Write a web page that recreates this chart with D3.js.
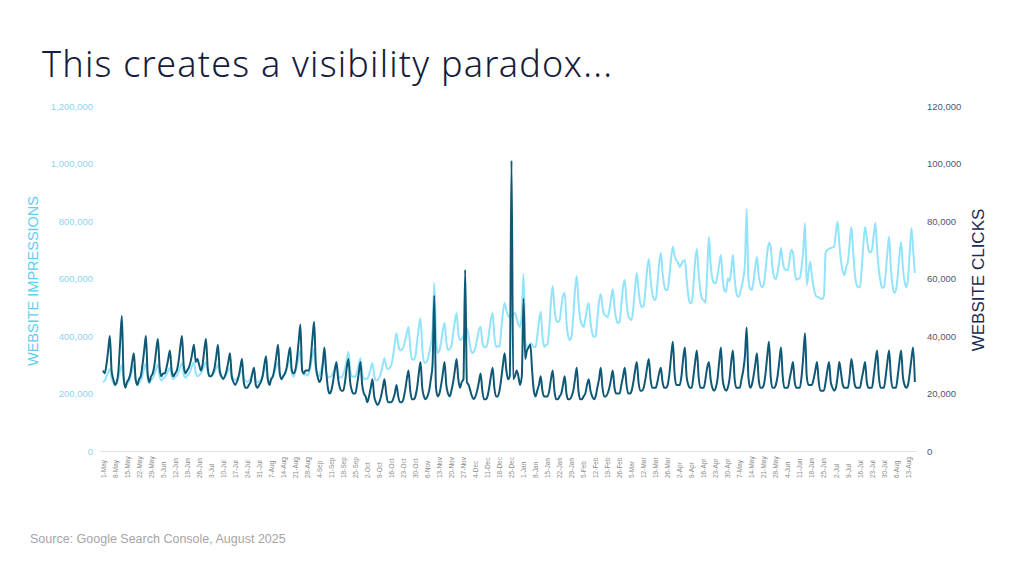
<!DOCTYPE html>
<html>
<head>
<meta charset="utf-8">
<script src="https://cdn.jsdelivr.net/npm/d3@7"></script>
<style>
  body { margin: 0; background: #fff; }
  svg { display: block; }
</style>
</head>
<body>
<div id="chart"></div>
<script>
// first day of data and last labelled week
const startDate = new Date(Date.UTC(2024, 4, 1));
const lastTickDate = new Date(Date.UTC(2025, 7, 13));

const impressionTicks = [0, 200000, 400000, 600000, 800000, 1000000, 1200000];
const clickTicks = [0, 20000, 40000, 60000, 80000, 100000, 120000];

// daily website clicks, thousands, one row per week (weeks start on Wednesday)
const clicksK = [
  [28,27,30,35,40,28,25], [23,24,28,38,47,26,22], [24,25,27,31,34,25,23], [25,26,30,35,40,27,24],
  [26,27,30,35,39,29,26], [27,27,29,32,35,28,26], [27,28,31,36,40,30,27], [28,29,31,34,37,31,32],
  [30,28,30,35,39,29,26], [26,27,29,33,37,28,26], [25,26,28,31,34,26,24], [23,24,26,29,32,24,22],
  [22,23,24,27,29,23,22], [23,24,26,30,33,25,23], [25,26,29,33,37,27,25], [26,27,29,33,36,28,27],
  [28,32,38,44,28,27,28], [28,28,32,39,45,30,26], [24,25,30,36,28,22,20], [21,24,28,31,25,22,21],
  [21,24,29,32,24,21,20], [20,23,27,31,23,20,19], [17,19,22,25,19,17,16], [17,19,22,25,20,17,17],
  [17,18,20,23,19,17,17], [18,21,25,28,21,18,18], [19,22,27,31,22,19,18], [19,21,25,30,54,22,19],
  [20,23,27,31,23,20,19], [21,24,28,32,25,22,24], [25,63,24,23,21,19,18], [19,21,24,27,21,18,18],
  [19,22,26,29,22,19,19], [21,25,30,34,28,25,26], [101,25,26,28,26,23,26], [53,32,35,36,37,28,21],
  [19,21,23,26,21,19,19], [19,21,25,28,21,18,18], [19,20,23,26,20,18,18], [19,21,25,29,21,18,18],
  [19,20,23,25,21,19,18], [19,22,25,29,22,19,19], [20,22,25,28,22,20,20], [20,23,26,29,23,20,20],
  [21,24,28,31,24,21,21], [22,25,29,32,25,22,22], [22,24,27,29,24,22,22], [23,27,33,38,27,23,23],
  [23,26,32,36,26,23,22], [22,26,31,35,26,22,22], [22,25,29,31,25,22,21], [22,25,31,36,25,22,21],
  [22,25,31,35,25,22,22], [22,25,28,33,43,26,22], [23,26,30,34,25,22,22], [23,27,33,38,26,22,22],
  [23,26,31,36,26,22,22], [22,25,28,31,24,22,22], [22,26,33,41,26,23,23], [23,25,28,31,24,21,21],
  [21,24,28,31,24,22,21], [22,26,31,27,23,22,22], [22,26,32,28,23,22,22], [22,25,28,31,24,22,22],
  [22,26,31,35,26,22,22], [22,26,31,35,26,22,22], [22,26,31,35,26,23,22], [23,27,32,36,24]
];

// daily website impressions, thousands, same weeks
const impressionsK = [
  [240,245,258,274,285,252,240], [229,236,255,281,300,244,225], [234,241,258,283,300,248,230], [238,246,263,288,305,253,235],
  [248,253,267,286,300,259,245], [252,256,266,280,290,260,250], [258,262,275,293,305,268,255], [262,268,280,298,310,272,260],
  [264,270,281,298,310,274,262], [260,264,275,290,300,268,258], [254,258,267,281,290,262,252], [247,250,259,271,280,254,245],
  [240,244,253,266,275,247,238], [243,248,262,281,295,254,240], [253,259,274,295,310,265,250], [261,267,283,305,320,273,258],
  [274,295,325,350,290,265,268], [262,272,297,330,355,282,258], [262,282,305,320,275,255,258], [260,271,287,300,268,255,257],
  [267,288,318,344,284,258,260], [257,276,301,323,272,250,252], [251,266,288,306,263,245,247], [256,274,300,323,295,285,289],
  [300,330,375,410,370,350,352], [360,385,410,431,360,320,317], [330,380,430,462,360,310,306], [315,340,370,420,584,400,341],
  [350,380,420,445,380,351,355], [365,410,450,480,410,386,390], [400,415,428,400,360,341,345], [360,390,420,431,380,362,362],
  [375,415,455,480,400,362,365], [362,420,480,515,490,470,466], [470,475,480,460,440,431,480], [615,380,362,365,375,370,362],
  [362,400,450,484,400,362,370], [370,430,520,574,500,455,449], [455,500,540,550,450,400,386], [400,470,560,609,520,460,440],
  [431,460,495,515,450,410,397], [400,460,520,546,500,475,470], [466,490,530,563,500,460,445], [450,510,570,595,520,470,460],
  [456,500,570,619,560,515,501], [505,560,630,668,600,550,528], [525,580,650,689,620,575,560], [560,610,670,710,680,664,655],
  [640,650,660,664,600,540,515], [515,580,660,703,620,560,530], [525,515,620,745,650,600,584], [584,610,650,682,600,560,553],
  [600,590,630,682,600,550,536], [545,570,600,650,842,600,565], [560,590,640,675,610,580,570], [580,630,690,724,710,640,605],
  [598,620,660,706,660,635,630], [630,665,700,690,625,595,600], [600,640,700,793,577,620,658], [610,570,545,536,535,530,529],
  [540,690,700,703,706,708,710], [760,797,720,660,625,612,640], [660,720,779,700,620,580,570], [570,630,720,779,740,700,690],
  [700,750,793,700,630,590,567], [570,620,690,745,640,575,550], [560,610,680,727,640,590,570], [600,690,776,700,619]
];

const width = 1024;
const height = 574;
const plot = { left: 103, right: 908, top: 106, bottom: 451 };

const clicks = clicksK.flat().map((v, i) => ({ date: d3.utcDay.offset(startDate, i), value: v * 1000 }));
const impressions = impressionsK.flat().map((v, i) => ({ date: d3.utcDay.offset(startDate, i), value: v * 1000 }));

const svg = d3.select('#chart')
  .append('svg')
  .attr('width', width)
  .attr('height', height);

const x = d3.scaleUtc()
  .domain([startDate, lastTickDate])
  .range([plot.left, plot.right]);

const yLeft = d3.scaleLinear()
  .domain([0, 1200000])
  .range([plot.bottom, plot.top]);

const yRight = d3.scaleLinear()
  .domain([0, 120000])
  .range([plot.bottom, plot.top]);

// title
svg.append('text')
  .attr('x', 42)
  .attr('y', 77)
  .attr('font-family', '"Noto Sans", sans-serif')
  .attr('font-size', 36)
  .attr('font-weight', 350)
  .attr('letter-spacing', 1.2)
  .attr('fill', '#171b3d')
  .text('This creates a visibility paradox...');

// baseline
svg.append('line')
  .attr('x1', plot.left - 3)
  .attr('x2', x(d3.utcDay.offset(startDate, clicks.length - 1)) + 2)
  .attr('y1', plot.bottom + 0.5)
  .attr('y2', plot.bottom + 0.5)
  .attr('stroke', '#e3e3e3')
  .attr('stroke-width', 1);

// left axis
const leftAxis = svg.append('g')
  .attr('transform', `translate(${plot.left - 10},0)`)
  .call(d3.axisLeft(yLeft).tickValues(impressionTicks).tickSize(0).tickPadding(0).tickFormat(d3.format(',')));
leftAxis.select('.domain').remove();
leftAxis.selectAll('text')
  .attr('font-family', '"Liberation Sans", Arial, sans-serif')
  .attr('font-size', 9.5)
  .attr('fill', '#8cd5ee');

// right axis
const rightAxis = svg.append('g')
  .attr('transform', `translate(${plot.right + 19},0)`)
  .call(d3.axisRight(yRight).tickValues(clickTicks).tickSize(0).tickPadding(0).tickFormat(d3.format(',')));
rightAxis.select('.domain').remove();
rightAxis.selectAll('text')
  .attr('font-family', '"Liberation Sans", Arial, sans-serif')
  .attr('font-size', 9.5)
  .attr('fill', '#4f5679');

// x axis with weekly labels
const weekTicks = d3.utcDays(startDate, d3.utcDay.offset(lastTickDate, 1), 7);
const xAxis = svg.append('g')
  .attr('transform', `translate(0,${plot.bottom})`)
  .call(d3.axisBottom(x).tickValues(weekTicks).tickSize(0).tickFormat(d3.utcFormat('%-d-%b')));
xAxis.select('.domain').remove();
xAxis.selectAll('text')
  .attr('font-family', '"Liberation Sans", Arial, sans-serif')
  .attr('font-size', 6.5)
  .attr('fill', '#8a8a8a')
  .attr('text-anchor', 'start')
  .attr('dy', '0.32em')
  .attr('transform', 'translate(0,27) rotate(-90)')
  .attr('x', 0)
  .attr('y', 0);

// axis titles
svg.append('text')
  .attr('transform', `translate(38,281) rotate(-90)`)
  .attr('text-anchor', 'middle')
  .attr('font-family', '"Liberation Sans", Arial, sans-serif')
  .attr('font-size', 14.5)
  .attr('fill', '#5fcdef')
  .text('WEBSITE IMPRESSIONS');

svg.append('text')
  .attr('transform', `translate(984,280) rotate(-90)`)
  .attr('text-anchor', 'middle')
  .attr('font-family', '"Liberation Sans", Arial, sans-serif')
  .attr('font-size', 17)
  .attr('fill', '#1b2b55')
  .text('WEBSITE CLICKS');

// lines
const impressionLine = d3.line()
  .x(d => x(d.date))
  .y(d => yLeft(d.value))
  .curve(d3.curveMonotoneX);

const clickLine = d3.line()
  .x(d => x(d.date))
  .y(d => yRight(d.value))
  .curve(d3.curveMonotoneX);

svg.append('path')
  .datum(impressions)
  .attr('fill', 'none')
  .attr('stroke', '#93e3fa')
  .attr('stroke-width', 2)
  .attr('stroke-linejoin', 'round')
  .attr('d', impressionLine);

svg.append('path')
  .datum(clicks)
  .attr('fill', 'none')
  .attr('stroke', '#0f5977')
  .attr('stroke-width', 2)
  .attr('stroke-linejoin', 'round')
  .attr('d', clickLine);

// source note
svg.append('text')
  .attr('x', 30)
  .attr('y', 543)
  .attr('font-family', '"Liberation Sans", Arial, sans-serif')
  .attr('font-size', 12.5)
  .attr('fill', '#a5a5a5')
  .text('Source: Google Search Console, August 2025');
</script>
</body>
</html>
